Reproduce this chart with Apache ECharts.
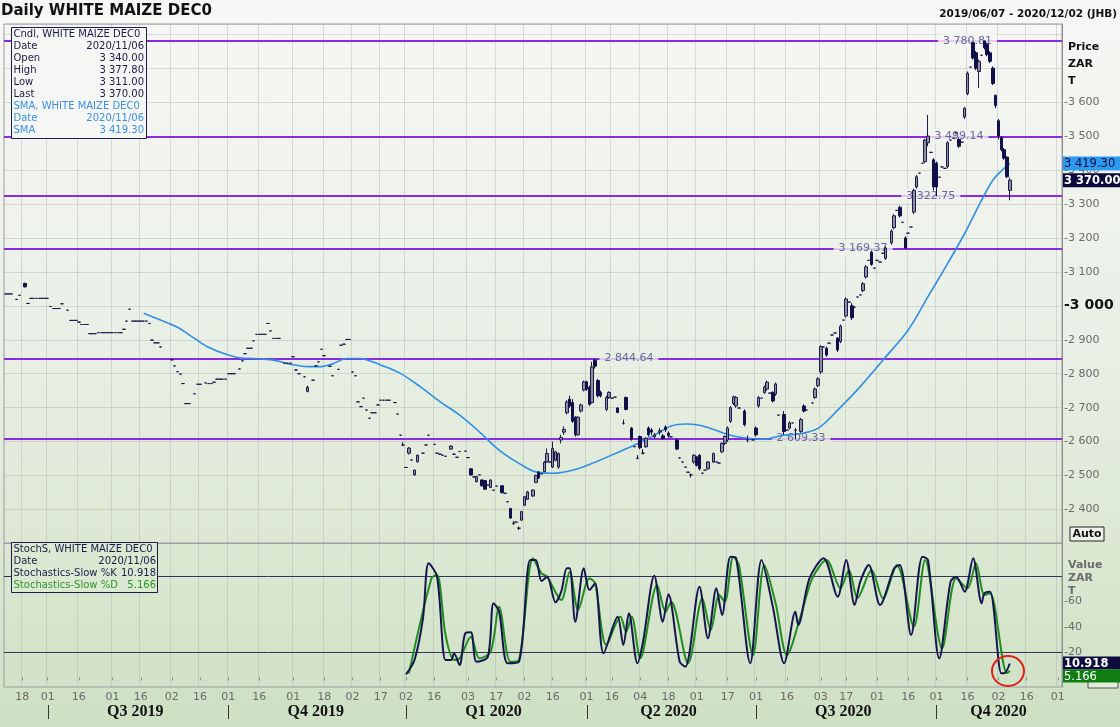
<!DOCTYPE html>
<html><head><meta charset="utf-8">
<script src="https://cdn.jsdelivr.net/npm/echarts@6/dist/echarts.min.js"></script>
<style>html,body{margin:0;padding:0;background:#eef2ea;}#c{width:1120px;height:727px;}</style>
</head><body><div id="c"></div>
<script>
// ---------------- DATA ----------------
const titleText = 'Daily WHITE MAIZE DEC0';
const rangeText = '2019/06/07 - 2020/12/02 (JHB)';
const firstDay = '2019-06-07', lastDay = '2020-12-02';
const holidays = ['2019-06-17','2019-08-09','2019-09-24','2019-12-16','2019-12-25','2019-12-26','2020-01-01',
  '2020-04-10','2020-04-13','2020-04-27','2020-05-01','2020-06-16','2020-08-10','2020-09-24'];
// trading-day categories (weekdays, JSE holidays excluded)
const categories = [];
(function(){
  let t = Date.parse(firstDay + 'T00:00:00Z'); const end = Date.parse(lastDay + 'T00:00:00Z');
  while (t <= end) { const d = new Date(t); const wd = d.getUTCDay(); const s = d.toISOString().slice(0,10);
    if (wd !== 0 && wd !== 6 && holidays.indexOf(s) < 0) categories.push(s); t += 86400000; }
})();
// candles: [tradingDayIndex, open, close, low, high]  or [tradingDayIndex, price] for a flat trade
const candleRaw = [
[0,3035],[1,3035],[2,3035],[4,3019],[5,3031],[7,3066,3056,3054,3068],[8,3007],[9,3022],[10,3022],[11,3022],[12,3022],[13,3022],[14,3022],[15,3022],
[16,2998],[17,2992],[18,2992],[19,2992],[20,3006],[22,2987],[23,2957],[24,2957],[25,2957],[26,2952],[27,2945],[28,2945],[29,2945],
[30,2918],[31,2918],[32,2918],[33,2921],[34,2921],[35,2921],[36,2921],[37,2921],[38,2921],[39,2921],[40,2921],[41,2921],[42,2931],[43,2955],[44,2990],
[45,2955],[46,2955],[47,2955],[48,2955],[49,2955],[50,2955],[51,2948],[52,2899],[53,2891],[54,2891],[55,2879],[59,2841],[60,2823],[61,2806],[62,2799],[63,2771],
[64,2712],[65,2712],[67,2741],[68,2769],[69,2769],[71,2773],[72,2771],[73,2771],[74,2775],[75,2784],[76,2784],[77,2784],[78,2784],[79,2800],[80,2800],[81,2800],
[83,2814],[84,2838],[85,2859],[86,2875],[87,2875],[88,2897],[89,2916],[90,2916],[91,2916],[92,2916],[93,2948],[94,2926],[95,2904],[96,2904],[97,2904],
[99,2831],[100,2831],[101,2831],[102,2850],[103,2811],[104,2800],[106,2791],[107,2748,2760,2745,2765],[109,2781],[110,2823],[111,2835],[112,2872],[113,2853],
[115,2822],[116,2794],[118,2813],[119,2884],[120,2887],[121,2901],[122,2901],[123,2805],[124,2794],[125,2717],[126,2703],[127,2728],[128,2693],[129,2669],
[130,2685],[131,2685],[132,2708],[133,2722],[134,2722],[135,2722],[136,2722],[138,2715],[139,2681],[140,2619],
[141,2590,2590,2588,2598],[142,2524],[143,2566,2581,2562,2584],[144,2546],[145,2502,2516,2500,2518],[146,2541,2560,2538,2562],[148,2566],[149,2590],[150,2619],
[152,2592],[153,2566],[154,2563],[155,2560],[156,2557],[158,2578,2587,2576,2589],[159,2563],[160,2554],[161,2571],[163,2572],[164,2553],
[165,2520,2502,2500,2522],[166,2496],[167,2482,2497,2480,2499],[168,2502],[169,2487,2470,2468,2489],[170,2485,2460,2458,2487],[171,2472],
[172,2465,2487,2463,2489],[173,2457],[174,2469],[176,2470,2450,2447,2472],[177,2448],[178,2423],[179,2403,2375,2372,2405],[180,2359,2359,2355,2366],
[181,2363],[182,2345,2345,2340,2350],[183,2369,2394,2366,2396],[184,2413,2438,2410,2440],[185,2430,2452,2428,2455],[187,2440,2457,2437,2460],
[188,2480,2500,2478,2503],[189,2510,2493,2490,2513],[190,2505],[191,2512,2540,2510,2543],[192,2540,2565,2537,2580],[193,2540],[194,2525,2580,2522,2600],
[195,2545,2570,2542,2573],[196,2525,2565,2520,2568],[197,2605,2612,2595,2620],[198,2628,2636,2620,2645],[199,2685,2717,2680,2722],[200,2725,2705,2700,2735],
[201,2715,2660,2655,2725],[202,2672,2620,2615,2675],[203,2620,2672,2618,2675],[204,2690,2708,2686,2712],[205,2752,2776,2748,2780],[206,2776,2755,2750,2780],
[207,2760,2710,2705,2765],[208,2715,2820,2712,2835],[209,2840,2822,2815,2844.64],[210,2780,2735,2730,2785],[211,2745,2735,2730,2750],
[213,2695,2730,2690,2735],[214,2730,2745,2726,2748],[215,2728],[216,2731],[217,2699,2686,2684,2702],[219,2654,2654,2650,2665],[220,2730,2695,2692,2733],
[222,2640,2607,2603,2643],[223,2585],[224,2551,2551,2548,2560],[225,2615,2582,2578,2618],[226,2566,2566,2562,2578],[227,2585,2610,2582,2613],
[228,2640,2620,2615,2645],[229,2634,2628,2620,2640],[230,2614,2620,2608,2625],[232,2628,2632,2620,2640],[233,2617,2610,2605,2622],[234,2643,2635,2628,2648],
[235,2625,2618,2612,2630],[236,2614],[238,2605,2578,2575,2610],[239,2552],[240,2540],[241,2525],[242,2510],[243,2502,2502,2494,2506],
[244,2540,2560,2535,2563],[245,2555,2530,2527,2558],[246,2560,2520,2515,2563],[247,2507],[248,2516],[249,2520,2540,2517,2543],[251,2540,2565,2537,2568],
[252,2540],[253,2537],[254,2570,2595,2566,2598],[255,2595,2615,2590,2618],[256,2605,2640,2600,2645],[257,2660,2700,2655,2705],[258,2712,2732,2708,2736],
[259,2705,2730,2700,2734],[260,2699],[262,2690,2650,2645,2695],[263,2605,2605,2598,2618],[265,2605],[266,2640,2620,2615,2645],[267,2705,2730,2700,2735],
[268,2728],[269,2745,2760,2740,2765],[270,2755,2775,2750,2780],[271,2743],[272,2745,2720,2715,2748],[273,2740,2770,2735,2774],[274,2678],
[276,2680,2630,2620,2690],[277,2634],[278,2640,2655,2636,2660],[279,2655],[280,2634,2634,2609.33,2640],[282,2630,2665,2626,2670],[283,2705,2690,2686,2710],
[284,2693],[286,2714],[287,2730,2755,2726,2760],[288,2765,2785,2760,2790],[289,2805,2880,2800,2884],[290,2879],[291,2875,2855,2850,2880],[292,2890],
[293,2914],[294,2920],[295,2905,2870,2864,2908],[296,2895,2940,2890,2945],[297,2958],[298,2970,3020,2965,3025],[299,3011],[300,3000,2965,2958,3008],
[301,2996],[302,3026],[303,3032],[304,3045,3065,3040,3070],[305,3085,3115,3080,3120],[306,3134],[307,3158,3122,3118,3162],[308,3111],[309,3134],
[310,3129],[311,3155],[312,3140,3170,3135,3175],[314,3185,3220,3180,3225],[315,3230,3265,3225,3270],[316,3281],[317,3290,3265,3260,3295],[318,3246],
[319,3200,3170,3169.37,3205],[320,3214],[321,3232],[322,3276,3340,3270,3345],[323,3350,3380,3345,3385],[324,3391],[325,3420],[326,3425,3488,3420,3492],
[327,3480,3500,3470,3562],[328,3452],[329,3430,3350,3340,3435],[330,3420,3350,3322.75,3425],[331,3379],[332,3409],[333,3405],[334,3410,3480,3405,3485],
[335,3488],[336,3494],[337,3509],[338,3490,3470,3465,3495],[339,3482],[340,3556,3582,3550,3586],[341,3625,3685,3620,3690],[342,3703],
[343,3775,3730,3725,3778],[344,3745,3700,3694,3750],[345,3690,3720,3641,3725],[346,3738],[347,3780,3760,3755,3780.81],[348,3770,3740,3735,3775],
[349,3745,3720,3715,3750],[350,3700,3655,3650,3705],[351,3620,3590,3582,3622],[352,3545,3500,3490,3550],[353,3495,3460,3455,3500],
[354,3460,3435,3430,3465],[355,3438,3380,3376,3440],[356,3340,3370,3311,3377.8]
];
// SMA: [tradingDayIndex, value]
const smaPoints = [[49,2978],[55,2958],[61,2937],[67,2904],[72,2878],[78,2858],[84,2846],[88,2845],[95,2840],[101,2828],[107,2821],[112,2821],
[116,2829],[121,2845],[126,2845],[130,2835],[133,2826],[140,2801],[147,2762],[154,2718],[161,2678],[168,2629],[175,2575],[182,2536],[188,2511],
[194,2507],[201,2516],[208,2536],[215,2561],[223,2590],[230,2619],[236,2646],[241,2652],[246,2648],[251,2636],[257,2619],[263,2610],[269,2607],
[275,2618],[282,2624],[288,2639],[295,2693],[303,2762],[311,2840],[320,2929],[327,3027],[334,3125],[340,3213],[346,3311],[350,3370],[354,3405],[356,3419.3]];
// Stochastics slow %K and %D: [tradingDayIndex, value]
const kPoints = [[142,2.4],[145,13.7],[148,46.6],[150,90],[153,79.4],[156,13.7],[158,13.7],[159,19],[161,9.7],[163,34.8],[165,35.5],[167,12.3],
[171,16.3],[173,58.4],[175,51.8],[178,11.1],[182,12.3],[186,92.6],[188,92.6],[190,76],[192,79.4],[195,59.2],[197,67.6],[199,86],[200,86],[202,43.9],
[205,86],[207,68.9],[209,74.2],[212,19],[217,47.9],[219,25.5],[221,50.5],[224,11.1],[226,28.1],[230,80.2],[233,43.9],[235,65.5],[239,12.3],[241,8.4],
[246,71.5],[249,30.8],[252,70.3],[254,49.2],[257,95.2],[259,94],[264,11.1],[268,92.6],[272,55.8],[276,11.1],[280,51.8],[281,41.3],[285,78.2],[290,94],
[295,63.6],[298,92.6],[301,57.1],[303,75.5],[306,88.7],[310,57.1],[315,86],[317,88.7],[321,33.4],[325,95.2],[327,92.6],[331,15],[335,75.5],[337,79.4],
[340,67.6],[343,94],[346,58.4],[347,66.3],[349,67.6],[353,3.2],[354,3.2],[356,10.918]];
const dPoints = [[143,3],[151,78.2],[153,80.8],[156,33.4],[159,13.7],[161,15],[165,32],[168,15],[172,20.2],[175,55.8],[179,12.3],[182,13.7],[187,94],
[190,82.1],[192,79.4],[197,61],[200,83.4],[203,53.1],[207,78.2],[209,74.2],[213,25.5],[218,47.9],[220,36],[222,47.9],[225,15],[231,72.9],[234,51.8],
[236,59.7],[242,11.1],[247,62.4],[250,37.4],[253,65],[255,59.7],[258,95.2],[260,88.7],[265,17.6],[269,88.7],[273,58.4],[277,17.6],[282,49.2],[286,78.2],
[291,92.6],[296,70.3],[299,84.7],[302,62.4],[307,84.7],[311,62.4],[316,88.7],[322,40],[326,92.6],[332,22.9],[337,78.2],[341,70.3],[344,90],[347,65],
[349,66.3],[355,3.2],[356,5.166]];
const levelValues = [3780.81, 3499.14, 3322.75, 3169.37, 2844.64, 2609.33];
const stochBands = [80, 20];
const infoDate = '2020/11/06';
const lastOHLC = {Open:3340.00, High:3377.80, Low:3311.00, Last:3370.00};
const lastSMA = 3419.30, lastK = 10.918, lastD = 5.166;
const priceTicks = [2400,2500,2600,2700,2800,2900,3000,3100,3200,3300,3400,3500,3600];
const stochTicks = [20,40,60];

// ---------------- LAYOUT / STYLE ----------------
const levelLabelIdx = [341, 338, 328, 304, 221, 282];
const FONT = 'DejaVu Sans';
const bgStops = [[0,[247,247,245]],[0.45,[234,240,230]],[0.75,[220,232,211]],[1,[205,224,195]]];
function bgAt(y){ const f = Math.max(0,Math.min(1,y/727));
  for (let i=1;i<bgStops.length;i++){ if (f<=bgStops[i][0]) { const a=bgStops[i-1], b=bgStops[i]; const t=(f-a[0])/(b[0]-a[0]);
    const c=a[1].map((v,k)=>Math.round(v+(b[1][k]-v)*t)); return 'rgb('+c.join(',')+')'; } } return 'rgb(205,224,195)'; }
function sp(n){ return String(n).replace(/\B(?=(\d{3})+(?!\d))/g,' '); }
function fmt2(v){ const s=v.toFixed(2).split('.'); return sp(s[0])+'.'+s[1]; }

const ohlc = categories.map(()=>'-');
candleRaw.forEach(r=>{ ohlc[r[0]] = r.length===2 ? [r[1],r[1],r[1],r[1]] : [r[1],r[2],r[3],r[4]]; });

const labelSet = new Set();
for (let i=1;i<categories.length;i++){ const d=+categories[i].slice(8,10), pd=+categories[i-1].slice(8,10);
  if (categories[i].slice(5,7)!==categories[i-1].slice(5,7) || (d>=16 && pd<16)) labelSet.add(i); }
const showIdx = (i)=>labelSet.has(i);
const gridColor = 'rgba(160,165,160,0.35)';

const chart = echarts.init(document.getElementById('c'), null, {renderer:'canvas'});
const option = {
  animation:false,
  backgroundColor: new echarts.graphic.LinearGradient(0,0,0,1,bgStops.map(s=>({offset:s[0],color:'rgb('+s[1].join(',')+')'}))),
  grid:[
    {left:4,right:58,top:24,height:519.5,show:true,borderColor:'#9c9c9c',borderWidth:1,backgroundColor:'transparent',outerBoundsMode:'none',containLabel:false},
    {left:4,right:58,top:543,height:144,show:true,borderColor:'#9c9c9c',borderWidth:1,backgroundColor:'transparent',outerBoundsMode:'none',containLabel:false}
  ],
  xAxis:[
    {gridIndex:0,type:'category',data:categories,boundaryGap:true,axisLine:{show:false},axisTick:{show:false},axisLabel:{show:false},
     splitLine:{show:true,interval:showIdx,lineStyle:{color:gridColor,width:1}}},
    {gridIndex:1,type:'category',data:categories,boundaryGap:true,axisLine:{show:false},
     axisTick:{show:true,interval:showIdx,alignWithLabel:true,length:3,lineStyle:{color:'#8a8a8a'}},
     axisLabel:{show:true,interval:showIdx,formatter:(v)=>v.slice(8,10),color:'#6a6a6a',fontFamily:FONT,fontSize:11,margin:5,hideOverlap:false},
     splitLine:{show:true,interval:showIdx,lineStyle:{color:gridColor,width:1}}}
  ],
  yAxis:[
    {gridIndex:0,type:'value',position:'right',min:2300,max:3830,interval:100,
     axisLine:{show:true,lineStyle:{color:'#8c8c8c'}},axisTick:{show:false},
     axisLabel:{show:true,margin:2,showMaxLabel:false,showMinLabel:false,hideOverlap:false,
       formatter:(v)=>{ if (priceTicks.indexOf(v)<0) return ''; return v===3000 ? '{b|-3 000}' : '{n|-'+sp(v)+'}'; },
       rich:{n:{color:'#6a6a6a',fontFamily:FONT,fontSize:11},b:{color:'#111',fontFamily:FONT,fontSize:14,fontWeight:'bold'}}},
     splitLine:{show:true,lineStyle:{color:gridColor,width:1}}},
    {gridIndex:1,type:'value',position:'right',min:-7.6,max:106,splitNumber:5,
     axisLine:{show:true,lineStyle:{color:'#8c8c8c'}},axisTick:{show:false},
     axisLabel:{show:true,margin:2,hideOverlap:false,color:'#6a6a6a',fontFamily:FONT,fontSize:11,
       formatter:(v)=> stochTicks.indexOf(v)>=0 ? '-'+v : ''},
     splitLine:{show:false}}
  ],
  series:[
    {id:'levelLines',type:'line',xAxisIndex:0,yAxisIndex:0,z:1,data:[],silent:true,
     markLine:{z:1,silent:true,symbol:['none','none'],label:{show:false},animation:false,
       lineStyle:{color:'#8b2be0',width:2,type:'solid'},data:levelValues.map(v=>({yAxis:v}))}},
    {id:'levels',type:'scatter',xAxisIndex:0,yAxisIndex:0,z:3,symbolSize:0,silent:true,data:[]},
    {id:'cndl',type:'candlestick',xAxisIndex:0,yAxisIndex:0,z:6,data:ohlc,barWidth:3,
     itemStyle:{color:'#8e90a2',color0:'#10104a',borderColor:'#1a1a4c',borderColor0:'#10104a',borderWidth:1}},
    {id:'sma',type:'line',xAxisIndex:0,yAxisIndex:0,z:5,data:smaPoints,showSymbol:false,smooth:0.35,
     lineStyle:{color:'#2f8fe4',width:1.6}},
    {id:'k',type:'line',xAxisIndex:1,yAxisIndex:1,z:5,data:kPoints,showSymbol:false,smooth:0.3,
     lineStyle:{color:'#15154e',width:2},
     markLine:{z:2,silent:true,symbol:['none','none'],label:{show:false},lineStyle:{color:'#34345a',width:1,type:'solid'},data:stochBands.map(v=>({yAxis:v}))}},
    {id:'d',type:'line',xAxisIndex:1,yAxisIndex:1,z:4,data:dPoints,showSymbol:false,smooth:0.3,
     lineStyle:{color:'#1f8c1f',width:2}}
  ]
};
chart.setOption(option);

// ---------- second pass: annotations placed through the chart's own scales ----------
const P0 = (i,v)=>chart.convertToPixel({gridIndex:0},[i,v]);
const P1 = (i,v)=>chart.convertToPixel({gridIndex:1},[i,v]);
const levelData = levelValues.map((v,k)=>{ const y = P0(levelLabelIdx[k], v)[1];
  return {value:[levelLabelIdx[k], v], label:{backgroundColor:bgAt(y)}}; });

const g = [];
const txt = (x,y,text,style)=>g.push({type:'text',x:x,y:y,z:50,style:Object.assign({text:text,font:'11px '+FONT,fill:'#111',textVerticalAlign:'middle'},style||{})});
// titles
txt(1,11,titleText,{font:'bold 15px '+FONT,fill:'#111'});
txt(1117,14,rangeText,{font:'bold 10.5px '+FONT,fill:'#111',textAlign:'right'});
// right axis captions
['Price','ZAR','T'].forEach((t,k)=>txt(1068,47+k*17,t,{font:'bold 11px '+FONT,fill:'#111'}));
['Value','ZAR','T'].forEach((t,k)=>txt(1068,565+k*13,t,{font:'bold 11px '+FONT,fill:'#6c6c6c'}));
// Auto boxes
g.push({type:'rect',z:40,shape:{x:1070,y:527,width:34,height:14},style:{fill:'#eef3ea',stroke:'#222',lineWidth:1}});
txt(1087,534,'Auto',{font:'bold 11px '+FONT,textAlign:'center'});
g.push({type:'rect',z:40,shape:{x:1088,y:676,width:30,height:12},style:{fill:'#e2ecd9',stroke:'#555',lineWidth:1}});
// value boxes
function vbox(y,h,text,bg,fg,bold){ g.push({type:'rect',z:45,shape:{x:1063,y:y,width:57,height:h},style:{fill:bg}});
  txt(1064,y+h/2+0.5,text,{font:(bold?'bold ':'')+'11.5px '+FONT,fill:fg,z:46}); }
const ySma = P0(356,lastSMA)[1], yLast = P0(356,lastOHLC.Last)[1];
vbox(ySma-7,14,fmt2(lastSMA),'#2b9af0','#0c0c40',false);
vbox(Math.max(yLast-7,ySma+7),14,fmt2(lastOHLC.Last),'#0b0b3e','#fff',true);
const yK = P1(356,lastK)[1], yD = P1(356,lastD)[1];
vbox(yK-7,13,lastK.toFixed(3),'#0b0b3e','#fff',true);
vbox(Math.max(yD-6.5,yK+6),13,lastD.toFixed(3),'#0f7d12','#fff',false);
// info box (price panel)
g.push({type:'rect',z:30,shape:{x:11.5,y:27.5,width:135,height:111},style:{fill:'#f6f7f4',stroke:'#1c1c4e',lineWidth:1}});
const navy='#1a1a48', blue='#3a8fe0';
const rows1 = [['Cndl, WHITE MAIZE DEC0','',navy],['Date',infoDate,navy],['Open',fmt2(lastOHLC.Open),navy],['High',fmt2(lastOHLC.High),navy],
  ['Low',fmt2(lastOHLC.Low),navy],['Last',fmt2(lastOHLC.Last),navy],['SMA, WHITE MAIZE DEC0','',blue],['Date',infoDate,blue],['SMA',fmt2(lastSMA),blue]];
rows1.forEach((r,k)=>{ const y=34.5+k*12; txt(13.5,y,r[0],{font:'10px '+FONT,fill:r[2],z:31}); if(r[1]) txt(144,y,r[1],{font:'10px '+FONT,fill:r[2],textAlign:'right',z:31}); });
// info box (stochastics panel)
g.push({type:'rect',z:30,shape:{x:11.5,y:542.5,width:146,height:50},style:{fill:'#dbe8d2',stroke:'#1c1c4e',lineWidth:1}});
const green='#2b962b';
const rows2 = [['StochS, WHITE MAIZE DEC0','',navy],['Date',infoDate,navy],['Stochastics-Slow %K',lastK.toFixed(3),navy],['Stochastics-Slow %D',lastD.toFixed(3),green]];
rows2.forEach((r,k)=>{ const y=549+k*12; txt(13.5,y,r[0],{font:'10px '+FONT,fill:r[2],z:31}); if(r[1]) txt(156,y,r[1],{font:'10px '+FONT,fill:r[2],textAlign:'right',z:31}); });
// quarter labels and dividers
const qStarts = [];
for (let i=1;i<categories.length;i++){ const m=+categories[i].slice(5,7), pm=+categories[i-1].slice(5,7);
  if (m!==pm && (m-1)%3===0) qStarts.push(i); }
qStarts.forEach((s,k)=>{ const x = Math.round(P1(s,0)[0])+0.5;
  g.push({type:'line',z:20,shape:{x1:x,y1:705,x2:x,y2:719},style:{stroke:'#333',lineWidth:1}});
  const e = k+1<qStarts.length ? qStarts[k+1]-1 : categories.length-1;
  const mid = Math.floor((s+e)/2); const mx = P1(mid,0)[0];
  const d = categories[s]; const q = Math.floor((+d.slice(5,7)-1)/3)+1;
  txt(mx,712,'Q'+q+' '+d.slice(0,4),{font:'bold 16px "Liberation Serif"',textAlign:'center',fill:'#111'}); });
// red circle around last stochastic dip
const cc = P1(354.5,5);
g.push({type:'ellipse',z:60,shape:{cx:cc[0]+1,cy:cc[1],rx:16,ry:15},style:{fill:'none',stroke:'#e02018',lineWidth:2}});

chart.setOption({
  series:[{id:'levels',data:levelData,
    label:{show:true,position:'inside',formatter:(p)=>fmt2(p.value[1]),color:'#45458c',fontFamily:FONT,fontSize:11,padding:[2,5,2,5]}}],
  graphic:g
});
</script></body></html>
